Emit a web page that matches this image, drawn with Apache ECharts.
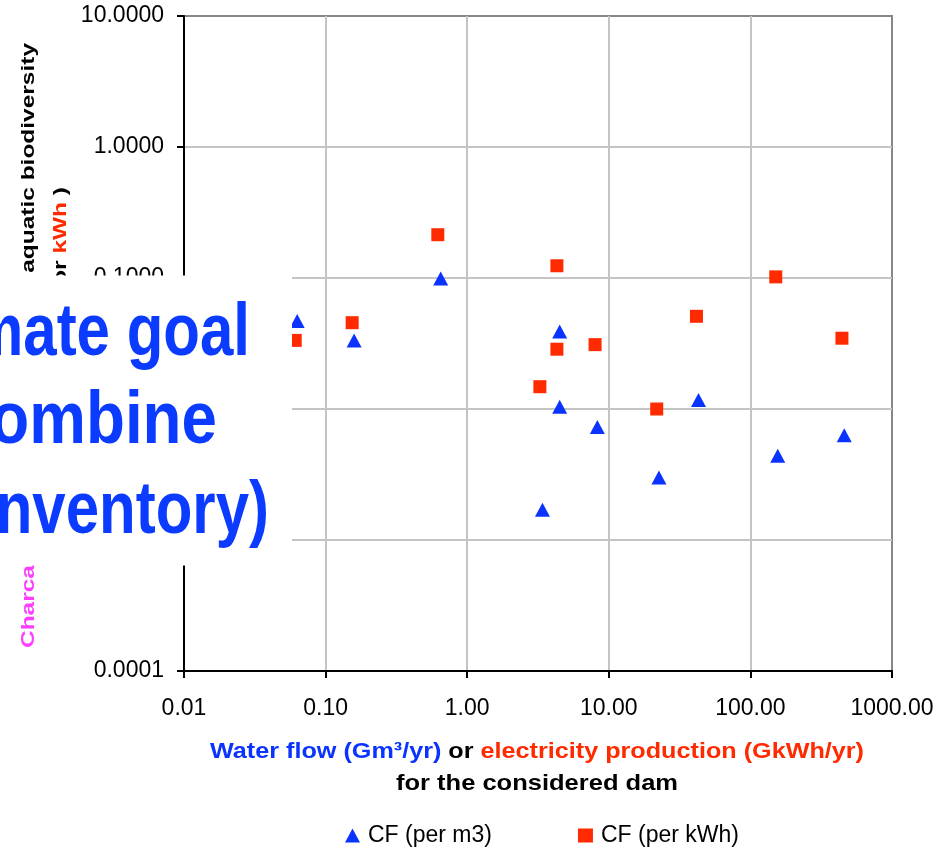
<!DOCTYPE html>
<html><head><meta charset="utf-8">
<script src="https://cdn.jsdelivr.net/npm/echarts@6/dist/echarts.min.js"></script>
<style>html,body{margin:0;padding:0;background:#fff}#c{width:951px;height:849px}</style>
</head><body><div id="c"></div>
<script>
// ---- data ----
const seriesNames = ['CF (per m3)', 'CF (per kWh)'];
const perM3X  = [0.063, 0.159, 0.65, 4.5, 4.5, 3.4, 8.3, 22.6, 43, 156, 460];
const perM3Y  = [0.047, 0.0334, 0.099, 0.039, 0.0104, 0.0017, 0.0073, 0.0030, 0.0117, 0.0044, 0.0063];
const perKWhX = [0.061, 0.154, 0.62, 4.3, 4.3, 3.26, 8.0, 21.8, 41.6, 151, 443];
const perKWhY = [0.0334, 0.0456, 0.214, 0.124, 0.0286, 0.0148, 0.031, 0.010, 0.051, 0.102, 0.0347];
const xTickValues = [0.01, 0.1, 1, 10, 100, 1000];
const xTickLabels = ['0.01', '0.10', '1.00', '10.00', '100.00', '1000.00'];
const yTickValues = [0.0001, 0.001, 0.01, 0.1, 1, 10];
const yTickLabels = ['0.0001', '0.0010', '0.0100', '0.1000', '1.0000', '10.0000'];
const overlayLines = ['Ultimate goal', '(to combine', 'with inventory)'];
const xTitle1 = ['Water flow (Gm³/yr)', ' or ', 'electricity production (GkWh/yr)'];
const xTitle2 = 'for the considered dam';
const yTitle1 = ['Charcaterization Factor (CF) ', 'for aquatic biodiversity'];
const yTitle2 = ['( PDF·m²·yr per ', 'm³', ' or ', 'kWh', ' )'];

// ---- helpers ----
const FONT = '"Liberation Sans", Arial, sans-serif';
const BLUE = '#0A33FF', RED = '#FF2A00', MAG = '#FF3DFF';
const mctx = document.createElement('canvas').getContext('2d');
function tw(str, size, weight) { mctx.font = (weight || 'normal') + ' ' + size + 'px ' + FONT; return mctx.measureText(str).width; }
function pickLabel(vals, labels, v) {
  let best = 0, bd = Infinity;
  vals.forEach((t, i) => { const d = Math.abs(Math.log10(t) - Math.log10(v)); if (d < bd) { bd = d; best = i; } });
  return labels[best];
}
function pairs(xs, ys) { return xs.map((x, i) => [x, ys[i]]); }

const chart = echarts.init(document.getElementById('c'), null, { renderer: 'canvas' });

const xt1Size = 22, xt1W = tw(xTitle1.join(''), xt1Size, 'bold');
const xt2W = tw(xTitle2, xt1Size, 'bold');
const ytSize = 19, yt1W = tw(yTitle1.join(''), ytSize, 'bold');
const ytScale = 605 / yt1W;
const ovSize = 75;

const option = {
  animation: false,
  backgroundColor: '#fff',
  grid: { left: 184, right: 59, top: 16, bottom: 178, show: true, borderColor: '#878787', borderWidth: 2, backgroundColor: 'transparent' },
  xAxis: {
    type: 'log', logBase: 10, min: 0.01, max: 1000,
    axisLine: { lineStyle: { color: '#000', width: 2 } },
    axisTick: { show: true, length: 7, lineStyle: { color: '#000', width: 2 } },
    axisLabel: { margin: 26, fontSize: 23, fontFamily: FONT, color: '#000',
      formatter: v => pickLabel(xTickValues, xTickLabels, v) },
    splitLine: { show: true, showMinLine: false, showMaxLine: false, lineStyle: { color: '#c4c4c4', width: 2 } }
  },
  yAxis: {
    type: 'log', logBase: 10, min: 0.0001, max: 10,
    axisLine: { lineStyle: { color: '#000', width: 2 } },
    axisTick: { show: true, length: 7, lineStyle: { color: '#000', width: 2 } },
    axisLabel: { margin: 20, fontSize: 23, fontFamily: FONT, color: '#000', padding: [3, 0, 0, 0],
      formatter: v => pickLabel(yTickValues, yTickLabels, v) },
    splitLine: { show: true, showMinLine: false, showMaxLine: false, lineStyle: { color: '#c4c4c4', width: 2 } }
  },
  legend: {
    left: 345, top: 824, padding: 0, itemWidth: 15, itemHeight: 14, itemGap: 86,
    textStyle: { fontSize: 23, fontFamily: FONT, color: '#000', padding: [0, 0, 0, 3] },
    data: [{ name: seriesNames[0], icon: 'triangle' }, { name: seriesNames[1], icon: 'rect' }]
  },
  series: [
    { name: seriesNames[0], type: 'scatter', symbol: 'triangle', symbolSize: [15, 14],
      itemStyle: { color: BLUE, opacity: 1 }, data: pairs(perM3X, perM3Y) },
    { name: seriesNames[1], type: 'scatter', symbol: 'rect', symbolSize: 13,
      itemStyle: { color: RED, opacity: 1 }, data: pairs(perKWhX, perKWhY) }
  ],
  graphic: [
    // rotated y-axis title (largely hidden by the overlay box)
    { type: 'text', z: 50, x: 29, y: 345.5, rotation: Math.PI / 2, scaleX: ytScale, scaleY: 1,
      style: { text: '{m|' + yTitle1[0] + '}{k|' + yTitle1[1] + '}', align: 'center', verticalAlign: 'middle',
        rich: { m: { fill: MAG, fontSize: ytSize, fontWeight: 'bold', fontFamily: FONT },
                k: { fill: '#000', fontSize: ytSize, fontWeight: 'bold', fontFamily: FONT } } } },
    { type: 'text', z: 50, x: 61, y: 187, rotation: Math.PI / 2, scaleX: ytScale, scaleY: 1,
      style: { text: '{k|' + yTitle2[0] + '}{b|' + yTitle2[1] + '}{k|' + yTitle2[2] + '}{r|' + yTitle2[3] + '}{k|' + yTitle2[4] + '}',
        align: 'right', verticalAlign: 'middle',
        rich: { k: { fill: '#000', fontSize: ytSize, fontWeight: 'bold', fontFamily: FONT },
                b: { fill: BLUE, fontSize: ytSize, fontWeight: 'bold', fontFamily: FONT },
                r: { fill: RED, fontSize: ytSize, fontWeight: 'bold', fontFamily: FONT } } } },
    // x-axis title
    { type: 'text', z: 50, x: 537, y: 751.7, scaleX: 654 / xt1W, scaleY: 1,
      style: { text: '{b|' + xTitle1[0] + '}{k|' + xTitle1[1] + '}{r|' + xTitle1[2] + '}', align: 'center', verticalAlign: 'middle',
        rich: { b: { fill: BLUE, fontSize: xt1Size, fontWeight: 'bold', fontFamily: FONT },
                k: { fill: '#000', fontSize: xt1Size, fontWeight: 'bold', fontFamily: FONT },
                r: { fill: RED, fontSize: xt1Size, fontWeight: 'bold', fontFamily: FONT } } } },
    { type: 'text', z: 50, x: 537, y: 784, scaleX: 282 / xt2W, scaleY: 1,
      style: { text: xTitle2, align: 'center', verticalAlign: 'middle', fill: '#000',
        fontSize: xt1Size, fontWeight: 'bold', fontFamily: FONT } },
    // overlay box
    { type: 'rect', z: 100, shape: { x: 0, y: 275.5, width: 292, height: 290 }, style: { fill: '#fff' } },
    { type: 'text', z: 110, x: 250, y: 334, scaleX: 0.8, scaleY: 1,
      style: { text: overlayLines[0], align: 'right', verticalAlign: 'middle', fill: '#0B3BFF', fontSize: ovSize, fontWeight: 'bold', fontFamily: FONT } },
    { type: 'text', z: 110, x: 217, y: 422.3, scaleX: 0.85, scaleY: 1,
      style: { text: overlayLines[1], align: 'right', verticalAlign: 'middle', fill: '#0B3BFF', fontSize: ovSize, fontWeight: 'bold', fontFamily: FONT } },
    { type: 'text', z: 110, x: 269, y: 512, scaleX: 0.8, scaleY: 1,
      style: { text: overlayLines[2], align: 'right', verticalAlign: 'middle', fill: '#0B3BFF', fontSize: ovSize, fontWeight: 'bold', fontFamily: FONT } }
  ]
};
chart.setOption(option);
</script></body></html>
